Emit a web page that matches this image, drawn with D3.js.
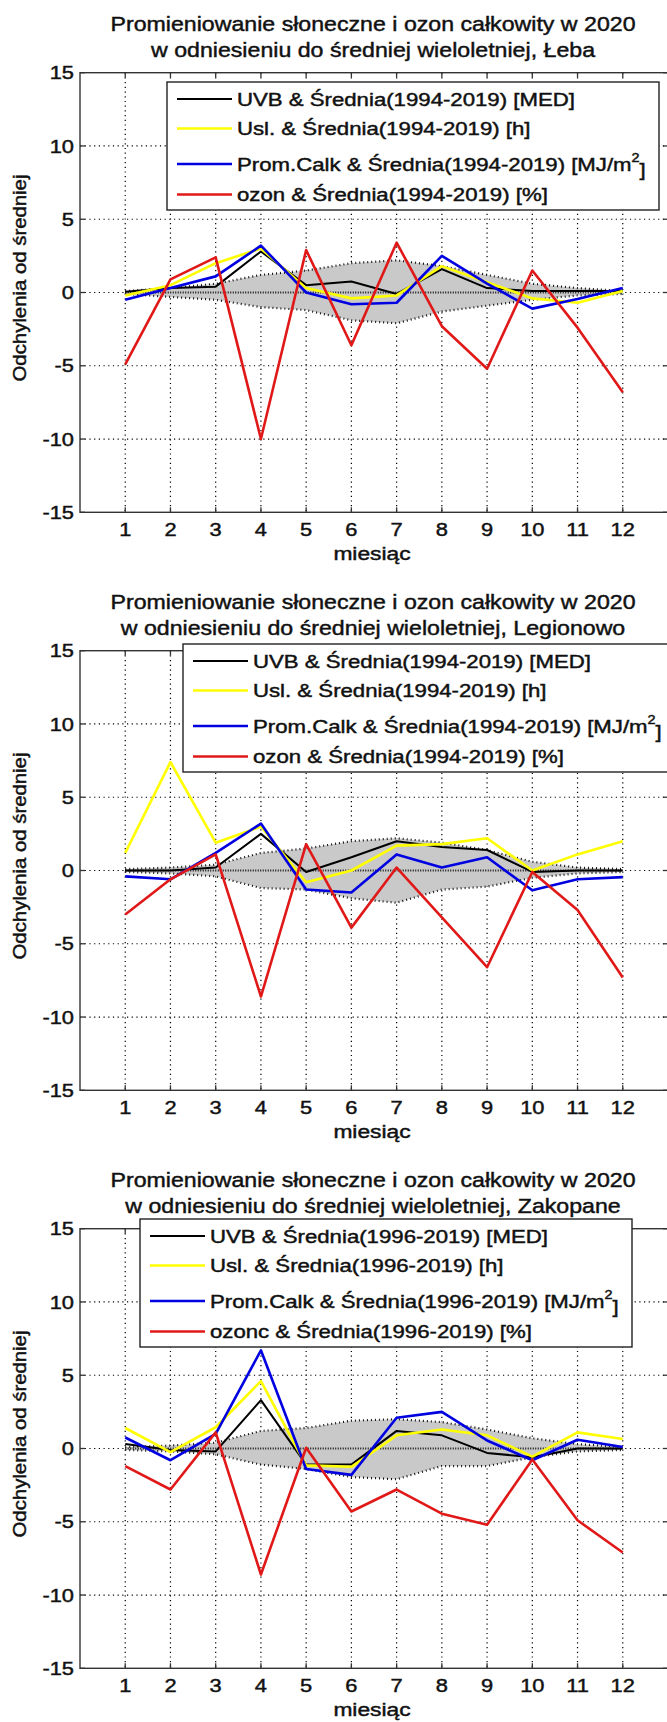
<!DOCTYPE html>
<html>
<head>
<meta charset="utf-8">
<script src="https://cdn.jsdelivr.net/npm/d3@7"></script>
<style>
  body { margin: 0; background: #fff; }
  text { font-family: "Liberation Sans", Arial, sans-serif; fill: #111; stroke: #111; stroke-width: 0.45px; }
</style>
</head>
<body>
<div id="viz"></div>
<script>
// months on the x axis
var months = [1,2,3,4,5,6,7,8,9,10,11,12];
var yTicks = [-15,-10,-5,0,5,10,15];

// Łeba
var lebaUVB  = [0.05,0.3,0.4,2.8,0.5,0.75,-0.1,1.6,0.3,0.1,0.1,0.1];
var lebaUsl  = [-0.2,0.5,2.0,3.0,0.3,-0.4,-0.2,1.8,0.7,-0.4,-0.7,0.1];
var lebaProm = [-0.5,0.3,1.1,3.2,0.0,-0.8,-0.7,2.5,0.6,-1.1,-0.45,0.3];
var lebaOzon = [-4.9,0.9,2.4,-10.0,2.9,-3.6,3.4,-2.3,-5.2,1.5,-2.4,-6.8];
var lebaSdUp = [0.1,0.3,0.6,1.2,1.5,2.0,2.2,1.8,1.2,0.6,0.3,0.1];
var lebaSdLo = [-0.1,-0.3,-0.5,-1.0,-1.2,-1.9,-2.1,-1.3,-0.9,-0.5,-0.2,-0.1];

// Legionowo
var legUVB  = [0.0,0.0,0.2,2.5,-0.1,0.9,2.0,1.6,1.4,-0.1,0.0,0.0];
var legUsl  = [1.2,7.4,1.9,3.0,-0.8,0.0,1.7,1.8,2.2,0.0,1.1,2.0];
var legProm = [-0.4,-0.6,1.2,3.2,-1.3,-1.5,1.1,0.2,0.9,-1.35,-0.6,-0.45];
var legOzon = [-3.0,-0.6,1.1,-8.6,1.8,-3.9,0.2,-3.2,-6.6,-0.1,-2.7,-7.3];
var legSdUp = [0.1,0.2,0.4,1.2,1.5,2.0,2.2,1.9,1.4,0.6,0.2,0.1];
var legSdLo = [-0.1,-0.2,-0.4,-1.2,-1.3,-1.9,-2.2,-1.3,-1.1,-0.5,-0.2,-0.1];

// Zakopane
var zakUVB  = [0.3,-0.1,-0.2,3.3,-1.1,-1.1,1.2,0.9,-0.3,-0.6,0.0,0.0];
var zakUsl  = [1.4,-0.25,1.45,4.6,-1.15,-1.25,0.9,1.3,0.9,-0.55,1.1,0.65];
var zakProm = [0.75,-0.8,1.0,6.7,-1.4,-1.8,2.1,2.5,0.55,-0.8,0.6,0.1];
var zakOzon = [-1.2,-2.8,1.1,-8.6,0.05,-4.3,-2.8,-4.45,-5.2,-0.75,-4.9,-7.1];
var zakSdUp = [0.1,0.2,0.4,1.2,1.4,1.9,2.0,1.8,1.3,0.7,0.3,0.1];
var zakSdLo = [-0.1,-0.2,-0.4,-1.1,-1.4,-1.95,-2.1,-1.2,-1.2,-0.6,-0.2,-0.1];

var titleLine1 = "Promieniowanie słoneczne i ozon całkowity w 2020";
var stations = ["Łeba", "Legionowo", "Zakopane"];
var periods = ["1994-2019", "1994-2019", "1996-2019"];
var ozonNames = ["ozon", "ozon", "ozonc"];
var seriesColors = ["#000000", "#ffff00", "#0000e0", "#e01818"];
var seriesWidths = [2, 2.6, 2.6, 2.6];

var panels = [
  {series: [lebaUVB, lebaUsl, lebaProm, lebaOzon], up: lebaSdUp, lo: lebaSdLo, legend: {x: 167, y: 82, w: 492}},
  {series: [legUVB, legUsl, legProm, legOzon], up: legSdUp, lo: legSdLo, legend: {x: 183, y: 66, w: 500}},
  {series: [zakUVB, zakUsl, zakProm, zakOzon], up: zakSdUp, lo: zakSdLo, legend: {x: 140, y: 63, w: 492}}
];

var width = 667, height = 1722;
var svg = d3.select("#viz").append("svg")
  .attr("width", width)
  .attr("height", height);

// text helper: glyphs in the picture are wider than Arial, so stretch along the text direction
function label(g, x, y, str, opts) {
  var t = g.append("text")
    .attr("transform", "translate(" + x + "," + y + ")" + (opts.rot ? " rotate(" + opts.rot + ")" : "") + " scale(" + (opts.sx || 1.15) + ",1)")
    .attr("text-anchor", opts.anchor || "start")
    .style("font-size", opts.size + "px")
    .text(str);
  if (opts.dy) t.attr("dy", opts.dy);
  return t;
}

var x = d3.scaleLinear().domain([0, 13]).range([80, 668]);

panels.forEach(function(p, i) {
  var g = svg.append("g").attr("transform", "translate(0," + (i * 578) + ")");
  var y = d3.scaleLinear().domain([-15, 15]).range([512.3, 72.7]);

  // title
  label(g, 373, 31, titleLine1, {size: 20.5, sx: 1.13, anchor: "middle"});
  label(g, 373, 57, "w odniesieniu do średniej wieloletniej, " + stations[i], {size: 20.5, sx: 1.13, anchor: "middle"});

  // grid
  g.append("g").selectAll("line").data(months).join("line")
    .attr("x1", d => x(d)).attr("x2", d => x(d))
    .attr("y1", y(15)).attr("y2", y(-15))
    .attr("stroke", "#000").attr("stroke-width", 1.2).attr("stroke-dasharray", "1.2,3.5");
  g.append("g").selectAll("line").data([-10,-5,0,5,10]).join("line")
    .attr("x1", x(0)).attr("x2", x(13))
    .attr("y1", d => y(d)).attr("y2", d => y(d))
    .attr("stroke", "#000").attr("stroke-width", 1.2).attr("stroke-dasharray", "1.2,3.5");

  // standard deviation band
  var band = months.map((m, k) => ({m: m, up: p.up[k], lo: p.lo[k]}));
  g.append("path").datum(band)
    .attr("fill", "#c9c9c9")
    .attr("d", d3.area().x(d => x(d.m)).y0(d => y(d.lo)).y1(d => y(d.up)));
  ["up", "lo"].forEach(function(key) {
    g.append("path").datum(band)
      .attr("fill", "none").attr("stroke", "#111").attr("stroke-width", 2.2)
      .attr("stroke-dasharray", "1,3")
      .attr("d", d3.line().x(d => x(d.m)).y(d => y(d[key])));
  });
  g.append("path").datum(band)
    .attr("fill", "none").attr("stroke", "#111").attr("stroke-width", 2.2)
    .attr("stroke-dasharray", "1,1.5")
    .attr("d", d3.line().x(d => x(d.m)).y(() => y(0)));

  // series lines
  var line = d3.line().x((d, k) => x(months[k])).y(d => y(d));
  g.selectAll(".series").data(p.series).join("path")
    .attr("fill", "none")
    .attr("stroke", (d, k) => seriesColors[k])
    .attr("stroke-width", (d, k) => seriesWidths[k])
    .attr("stroke-linejoin", "round")
    .attr("d", d => line(d));

  // axes box
  g.append("rect")
    .attr("x", x(0)).attr("y", y(15))
    .attr("width", x(13) - x(0)).attr("height", y(-15) - y(15))
    .attr("fill", "none").attr("stroke", "#333").attr("stroke-width", 1.4);
  // inward ticks on all sides
  months.forEach(function(m) {
    g.append("line").attr("x1", x(m)).attr("x2", x(m)).attr("y1", y(-15)).attr("y2", y(-15) - 5).attr("stroke", "#333").attr("stroke-width", 1.3);
    g.append("line").attr("x1", x(m)).attr("x2", x(m)).attr("y1", y(15)).attr("y2", y(15) + 5).attr("stroke", "#333").attr("stroke-width", 1.3);
    label(g, x(m), 536, String(m), {size: 19, sx: 1.15, anchor: "middle"});
  });
  yTicks.forEach(function(v) {
    g.append("line").attr("x1", x(0)).attr("x2", x(0) + 5).attr("y1", y(v)).attr("y2", y(v)).attr("stroke", "#333").attr("stroke-width", 1.3);
    g.append("line").attr("x1", x(13)).attr("x2", x(13) - 5).attr("y1", y(v)).attr("y2", y(v)).attr("stroke", "#333").attr("stroke-width", 1.3);
    label(g, 74, y(v), String(v), {size: 18.5, sx: 1.18, anchor: "end", dy: "0.36em"});
  });

  label(g, 372, 560, "miesiąc", {size: 19, sx: 1.2, anchor: "middle"});
  label(g, 26, 278, "Odchylenia od średniej", {size: 18.5, sx: 1.1, anchor: "middle", rot: -90});

  // legend
  var L = p.legend;
  var lg = g.append("g");
  lg.append("rect").attr("x", L.x).attr("y", L.y).attr("width", L.w).attr("height", 128)
    .attr("fill", "#fff").attr("stroke", "#222").attr("stroke-width", 1.4);
  var rowY = [17, 46.5, 82, 112.5];
  var names = [
    "UVB & Średnia(" + periods[i] + ") [MED]",
    "Usl. & Średnia(" + periods[i] + ") [h]",
    "Prom.Calk & Średnia(" + periods[i] + ") [MJ/m",
    ozonNames[i] + " & Średnia(" + periods[i] + ") [%]"
  ];
  rowY.forEach(function(ry, k) {
    lg.append("line")
      .attr("x1", L.x + 10).attr("x2", L.x + 65)
      .attr("y1", L.y + ry).attr("y2", L.y + ry)
      .attr("stroke", seriesColors[k]).attr("stroke-width", seriesWidths[k]);
    var t = label(lg, L.x + 70, L.y + ry, names[k], {size: 18.5, sx: 1.2, dy: "0.36em"});
    if (k == 2) {
      t.append("tspan").attr("dy", "-0.75em").style("font-size", "12px").text("2");
      t.append("tspan").attr("dy", "0.75em").text("]");
    }
  });
});
</script>
</body>
</html>
